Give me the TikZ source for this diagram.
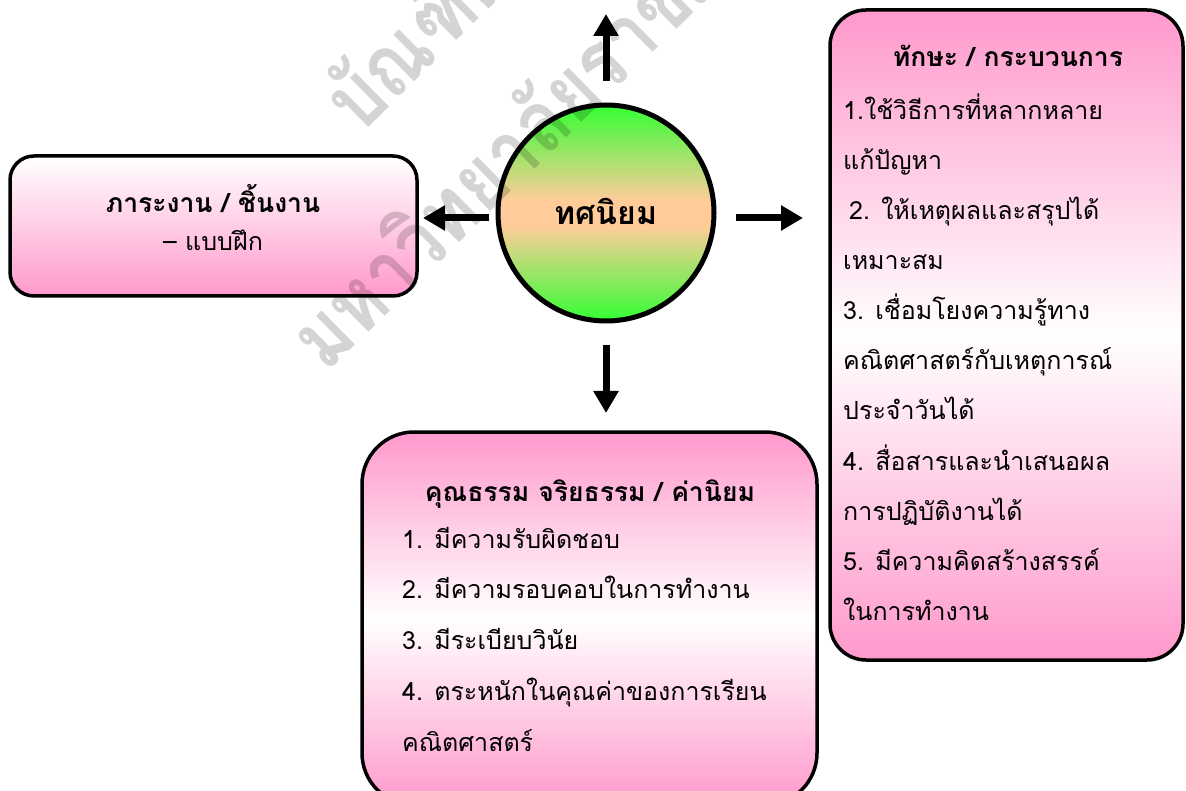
\documentclass[tikz,border=0pt]{standalone}
\usepackage{fontspec}
\setmainfont[Script=Thai]{Loma}
\usetikzlibrary{arrows.meta}
\definecolor{pinkc}{HTML}{FF99CC}
\definecolor{greenc}{HTML}{33FF33}
\definecolor{peachc}{HTML}{FFCC99}
\pgfdeclareverticalshading{circshade}{100bp}{color(0bp)=(greenc); color(25bp)=(greenc);
  color(47bp)=(peachc); color(53bp)=(peachc); color(75bp)=(greenc); color(100bp)=(greenc)}
\tikzset{
  boxshape/.style={draw=black, line width=3.5pt, inner sep=0pt},
  bodytxt/.style={anchor=base west, inner sep=0pt, font=\fontsize{25}{28}\selectfont},
  titletxt/.style={anchor=base, inner sep=0pt, font=\fontsize{26.5}{30}\selectfont\bfseries},
  arr/.style={line width=7pt, -{Triangle[width=24pt,length=22pt]}},
  wmark/.style={anchor=base west, rotate=44.5, inner sep=0pt, text=black, text opacity=0.17,
    font=\fontsize{86}{90}\selectfont\bfseries}
}
\begin{document}
\begin{tikzpicture}[x=1pt,y=-1pt]
\useasboundingbox (0,0) rectangle (1186,791);
\clip (0,0) rectangle (1186,791);
\fill[white] (0,0) rectangle (1186,791);

% boxes
\node[boxshape, rounded corners=24pt, minimum width=407pt, minimum height=140pt,
  top color=white, bottom color=pinkc] (lbox) at (213.5,226) {};
\node[boxshape, rounded corners=36pt, minimum width=353pt, minimum height=650pt,
  top color=pinkc, bottom color=pinkc, middle color=white] (rbox) at (1006.5,335) {};
\node[boxshape, rounded corners=52pt, minimum width=455pt, minimum height=373pt,
  top color=pinkc, bottom color=pinkc, middle color=white] (bbox) at (589.5,618.5) {};

% centre circle
\node[circle, draw=black, line width=5pt, minimum size=216pt, inner sep=0pt,
  shading=circshade] (circ) at (606,213) {};
\node[anchor=base, inner sep=0pt, font=\fontsize{32}{36}\selectfont\bfseries] (ctext) at (606,225) {ทศนิยม};

% arrows
\coordinate (uptip) at (606,14);
\coordinate (lefttip) at (423,218);
\coordinate (righttip) at (803,218);
\coordinate (downtip) at (606,413);
\coordinate (upstart) at (606,81);
\coordinate (leftstart) at (489,218);
\coordinate (rightstart) at (736,218);
\coordinate (downstart) at (606,345);
\draw[arr] (upstart) -- (uptip);
\draw[arr] (leftstart) -- (lefttip);
\draw[arr] (rightstart) -- (righttip);
\draw[arr] (downstart) -- (downtip);

% left box text
\node[titletxt] (lt) at (213,213) {ภาระงาน / ชิ้นงาน};
\node[anchor=base, inner sep=0pt, font=\fontsize{25}{28}\selectfont] (l1) at (213,251) {– แบบฝึก};

% right box text
\node[titletxt] (rt) at (1008,67) {ทักษะ / กระบวนการ};
\node[bodytxt] (r1) at (843,120) {1.ใช้วิธีการที่หลากหลาย};
\node[bodytxt] (r2) at (843,170) {แก้ปัญหา};
\node[bodytxt] (r3) at (849,220) {2. ให้เหตุผลและสรุปได้};
\node[bodytxt] (r4) at (843,270) {เหมาะสม};
\node[bodytxt] (r5) at (843,320) {3. เชื่อมโยงความรู้ทาง};
\node[bodytxt] (r6) at (843,370) {คณิตศาสตร์กับเหตุการณ์};
\node[bodytxt] (r7) at (843,420) {ประจำวันได้};
\node[bodytxt] (r8) at (843,470) {4. สื่อสารและนำเสนอผล};
\node[bodytxt] (r9) at (843,520) {การปฏิบัติงานได้};
\node[bodytxt] (r10) at (843,570) {5. มีความคิดสร้างสรรค์};
\node[bodytxt] (r11) at (843,620) {ในการทำงาน};

% bottom box text
\node[titletxt] (bt) at (590,501) {คุณธรรม จริยธรรม / ค่านิยม};
\node[bodytxt] (b1) at (402,548) {1. มีความรับผิดชอบ};
\node[bodytxt] (b2) at (402,598) {2. มีความรอบคอบในการทำงาน};
\node[bodytxt] (b3) at (402,649) {3. มีระเบียบวินัย};
\node[bodytxt] (b4) at (402,700) {4. ตระหนักในคุณค่าของการเรียน};
\node[bodytxt] (b5) at (402,751) {คณิตศาสตร์};

% watermark
\node[wmark] (wm1) at (360,136) {\scalebox{0.84}[1]{บัณฑิตวิทยาลัย}};
\node[wmark] (wm2) at (326,374) {\scalebox{0.84}[1]{มหาวิทยาลัยราชภัฏ}};
\end{tikzpicture}
\end{document}
